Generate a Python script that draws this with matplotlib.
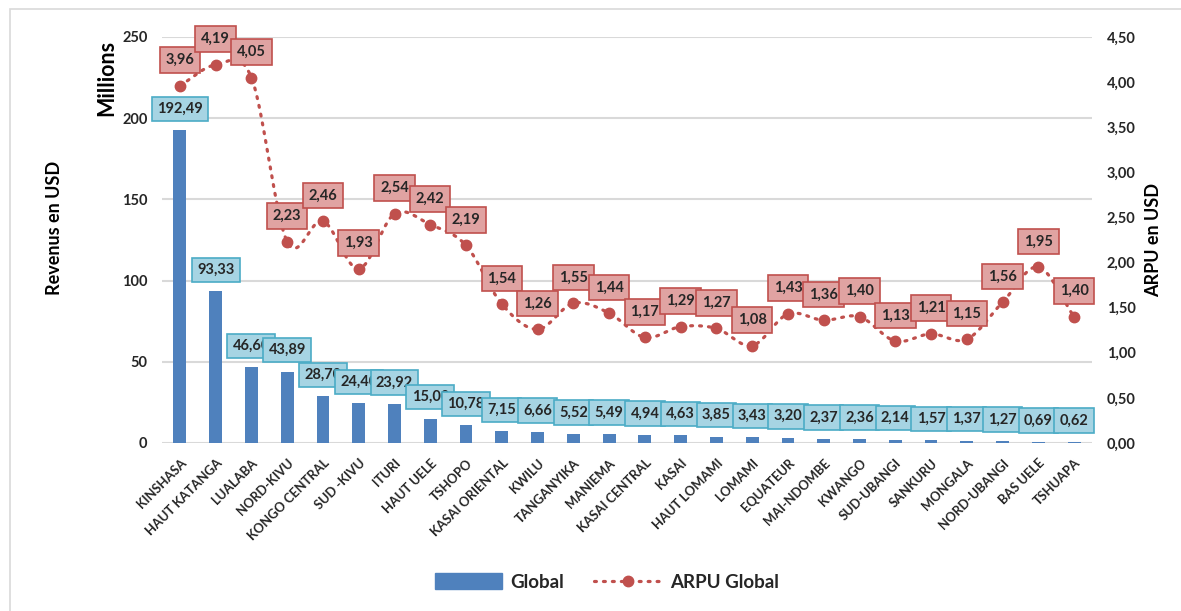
import numpy as np
import matplotlib
matplotlib.use("Agg")
import matplotlib.pyplot as plt
from matplotlib.patches import Rectangle
from matplotlib.lines import Line2D

plt.rcParams['font.family'] = ['Lato', 'DejaVu Sans']

provinces = ["KINSHASA", "HAUT KATANGA", "LUALABA", "NORD-KIVU", "KONGO CENTRAL",
             "SUD -KIVU", "ITURI", "HAUT UELE", "TSHOPO", "KASAI ORIENTAL", "KWILU",
             "TANGANYIKA", "MANIEMA", "KASAI CENTRAL", "KASAI", "HAUT LOMAMI",
             "LOMAMI", "EQUATEUR", "MAI-NDOMBE", "KWANGO", "SUD-UBANGI", "SANKURU",
             "MONGALA", "NORD-UBANGI", "BAS UELE", "TSHUAPA"]
revenue_musd = [192.49, 93.33, 46.60, 43.89, 28.70, 24.40, 23.92, 15.00, 10.78, 7.15,
                6.66, 5.52, 5.49, 4.94, 4.63, 3.85, 3.43, 3.20, 2.37, 2.36, 2.14,
                1.57, 1.37, 1.27, 0.69, 0.62]
arpu_usd = [3.96, 4.19, 4.05, 2.23, 2.46, 1.93, 2.54, 2.42, 2.19, 1.54, 1.26, 1.55,
            1.44, 1.17, 1.29, 1.27, 1.08, 1.43, 1.36, 1.40, 1.13, 1.21, 1.15, 1.56,
            1.95, 1.40]
left_ticks = [0, 50, 100, 150, 200, 250]
right_ticks = [0, 0.5, 1.0, 1.5, 2.0, 2.5, 3.0, 3.5, 4.0, 4.5]

BAR = "#4f81bd"
RED = "#c0504d"
TXT = "#262626"
GRID = "#d9d9d9"


def fr(v):
    return f"{v:.2f}".replace(".", ",")


def smooth(xs, ys, n=20):
    """Catmull-Rom curve through the points, used to draw a smoothed line."""
    xs = np.asarray(xs, float)
    ys = np.asarray(ys, float)
    px = np.concatenate([[2 * xs[0] - xs[1]], xs, [2 * xs[-1] - xs[-2]]])
    py = np.concatenate([[2 * ys[0] - ys[1]], ys, [2 * ys[-1] - ys[-2]]])
    ox, oy = [], []
    t = np.linspace(0, 1, n, endpoint=False)
    for i in range(1, len(px) - 2):
        for arr, out in ((px, ox), (py, oy)):
            p0, p1, p2, p3 = arr[i - 1], arr[i], arr[i + 1], arr[i + 2]
            out.extend(0.5 * ((2 * p1) + (-p0 + p2) * t
                              + (2 * p0 - 5 * p1 + 4 * p2 - p3) * t ** 2
                              + (-p0 + 3 * p1 - 3 * p2 + p3) * t ** 3))
    ox.append(xs[-1])
    oy.append(ys[-1])
    return np.array(ox), np.array(oy)


fig = plt.figure(figsize=(11.81, 6.11), dpi=100)
fig.patches.append(Rectangle((10 / 1181, -0.1), 1.2, 1 - 9 / 611 + 0.1,
                             transform=fig.transFigure, fill=False,
                             edgecolor="#d9d9d9", lw=1.2))

ax = fig.add_axes([162 / 1181, 1 - 443 / 611, 930 / 1181, 406 / 611])
x = np.arange(len(provinces))

ax.set_xlim(-0.5, len(provinces) - 0.5)
ax.set_ylim(0, 250)
ax.set_yticks(left_ticks)
ax.yaxis.grid(True, color=GRID, lw=1.5)
ax.set_axisbelow(True)
for s in ax.spines.values():
    s.set_visible(False)
ax.tick_params(axis="both", length=0)
ax.tick_params(axis="y", labelsize=10.5, labelcolor=TXT, pad=10.5)
for lab in ax.get_yticklabels():
    lab.set_fontweight("bold")

ax.bar(x, revenue_musd, width=0.36, color=BAR, zorder=2)

for i, v in enumerate(revenue_musd):
    ax.annotate(fr(v), (i, v), xytext=(0, 15.5), textcoords="offset points",
                ha="center", va="center", fontsize=10.5, fontweight="bold", color=TXT,
                zorder=3 + i,
                bbox=dict(boxstyle="square,pad=0.36", fc="#a6d4e3", ec="#4bacc6", lw=1.2))

ax.set_xticks(x)
ax.set_xticklabels(provinces, rotation=45, ha="right", rotation_mode="anchor",
                   fontsize=9.3, fontweight="bold", color=TXT)
ax.tick_params(axis="x", pad=10)

ax2 = ax.twinx()
ax2.set_ylim(0, 4.5)
ax2.set_yticks(right_ticks)
ax2.set_yticklabels([fr(t) for t in right_ticks], fontsize=10.5, fontweight="bold", color=TXT)
ax2.tick_params(axis="y", length=0, pad=10.5)
for s in ax2.spines.values():
    s.set_visible(False)

sx, sy = smooth(x, arpu_usd)
ax2.plot(sx, sy, color=RED, lw=2.3, linestyle=(0, (0.6, 2.2)), dash_capstyle="round", zorder=2)
ax2.plot(x, arpu_usd, linestyle="none", marker="o", ms=7.5, color=RED, zorder=3)

for i, v in enumerate(arpu_usd):
    ax2.annotate(fr(v), (i, v), xytext=(0, 18.5), textcoords="offset points",
                 ha="center", va="center", fontsize=10.5, fontweight="bold", color=TXT,
                 zorder=4 + i,
                 bbox=dict(boxstyle="square,pad=0.4", fc="#e0a3a2", ec=RED, lw=1.2))

fig.text(55 / 1181, 1 - 228 / 611, "Revenus en USD", rotation=90, ha="center", va="center",
         fontsize=13, fontweight="bold", color="#000000")
fig.text(107 / 1181, 1 - 78 / 611, "Millions", rotation=90, ha="center", va="center",
         fontsize=15.5, fontweight="bold", color="#000000")
fig.text(1154 / 1181, 1 - 240 / 611, "ARPU en USD", rotation=90, ha="center", va="center",
         fontsize=13, fontweight="bold", color="#000000")

handles = [Rectangle((0, 0), 1, 1, color=BAR),
           Line2D([], [], color=RED, lw=2.3, linestyle=(0, (0.6, 2.2)),
                  dash_capstyle="round", marker="o", ms=7.5)]
fig.legend(handles, ["Global", "ARPU Global"], loc="center", ncol=2,
           bbox_to_anchor=(607 / 1181, 1 - 582 / 611), frameon=False,
           prop=dict(size=13.5, weight="bold"), handlelength=3.6, handleheight=0.9,
           columnspacing=1.6, handletextpad=0.45, labelcolor=TXT)

fig.savefig("out.png", dpi=100)
